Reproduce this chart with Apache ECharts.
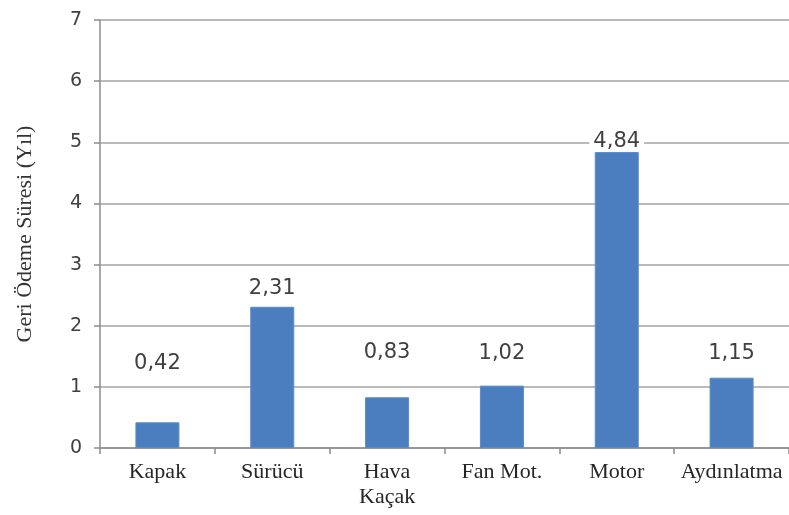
<!DOCTYPE html>
<html>
<head>
<meta charset="utf-8">
<script src="https://cdn.jsdelivr.net/npm/echarts@6/dist/echarts.min.js"></script>
<style>
  html, body { margin: 0; padding: 0; background: #fff; }
  #chart { width: 789px; height: 515px; }
</style>
</head>
<body>
<div id="chart"></div>
<script>
// Payback period per energy-saving measure (years)
const categories = ['Kapak', 'Sürücü', 'Hava\nKaçak', 'Fan Mot.', 'Motor', 'Aydınlatma'];
const paybackYears = [0.42, 2.31, 0.83, 1.02, 4.84, 1.15];
const yTicks = [0, 1, 2, 3, 4, 5, 6, 7];

// gap (px) between each bar top and its value label
const labelGaps = [48, 8, 34, 22, 0, 14];

const chart = echarts.init(document.getElementById('chart'), null, { renderer: 'canvas' });

const barData = paybackYears.map((v, i) => ({
  value: v,
  label: { distance: labelGaps[i] }
}));

chart.setOption({
  animation: false,
  backgroundColor: '#ffffff',
  grid: { left: 100, right: 0, top: 20, bottom: 67, containLabel: false },
  xAxis: {
    type: 'category',
    data: categories,
    axisLine: { show: true, lineStyle: { color: '#8c8c8c', width: 1.5 } },
    axisTick: { show: true, length: 6, lineStyle: { color: '#8c8c8c', width: 1.5 } },
    axisLabel: {
      interval: 0,
      margin: 12,
      fontFamily: 'Liberation Serif',
      fontSize: 22,
      lineHeight: 25,
      color: '#262626'
    }
  },
  yAxis: {
    type: 'value',
    min: yTicks[0],
    max: yTicks[yTicks.length - 1],
    interval: 1,
    name: 'Geri Ödeme Süresi (Yıl)',
    nameLocation: 'middle',
    nameGap: 64,
    nameTextStyle: { fontFamily: 'Liberation Serif', fontSize: 22, color: '#333333' },
    axisLine: { show: true, lineStyle: { color: '#8c8c8c', width: 1.5 } },
    axisTick: { show: true, length: 6, lineStyle: { color: '#8c8c8c', width: 1.5 } },
    axisLabel: {
      margin: 18,
      fontFamily: 'DejaVu Sans',
      fontSize: 19,
      color: '#404040',
      formatter: v => String(v)
    },
    splitLine: { show: true, lineStyle: { color: '#a3a3a3', width: 1.5 } }
  },
  series: [{
    type: 'bar',
    data: barData,
    barWidth: 44,
    itemStyle: { color: '#4a7ebf', borderColor: '#5b8bc8', borderWidth: 1 },
    label: {
      show: true,
      position: 'top',
      fontFamily: 'DejaVu Sans',
      fontSize: 21,
      color: '#404040',
      backgroundColor: '#ffffff',
      padding: [0, 4],
      formatter: p => p.value.toFixed(2).replace('.', ',')
    }
  }]
});
</script>
</body>
</html>
